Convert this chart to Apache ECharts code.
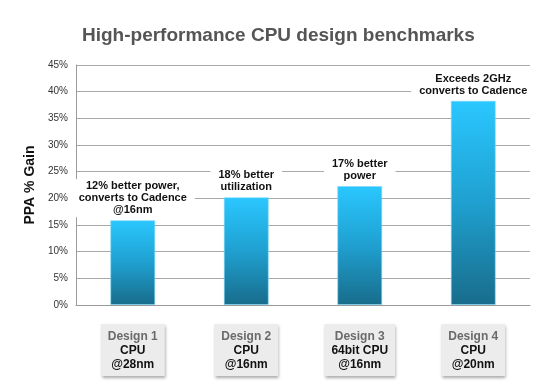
<!DOCTYPE html>
<html>
<head>
<meta charset="utf-8">
<script src="https://cdn.jsdelivr.net/npm/echarts@6/dist/echarts.min.js"></script>
<style>
html,body{margin:0;padding:0;background:#fff;}
#c{width:548px;height:381px;}
</style>
</head>
<body>
<div id="c"></div>
<script>
const designNames = ['Design 1', 'Design 2', 'Design 3', 'Design 4'];
const chipTypes = ['CPU', 'CPU', '64bit CPU', 'CPU'];
const processNodes = ['@28nm', '@16nm', '@16nm', '@20nm'];
const ppaGain = [15.9, 20.2, 22.3, 38.3];
const notes = [
  '12% better power,\nconverts to Cadence\n@16nm',
  '18% better\nutilization',
  '17% better\npower',
  'Exceeds 2GHz\nconverts to Cadence'
];
const yTicks = { min: 0, max: 45, interval: 5 };

const FONT = '"Liberation Sans", Arial, Helvetica, sans-serif';
const chart = echarts.init(document.getElementById('c'));
chart.setOption({
  animation: false,
  backgroundColor: '#ffffff',
  title: {
    text: 'High-performance CPU design benchmarks',
    left: 77,
    top: 21,
    textStyle: { fontFamily: FONT, fontSize: 19, fontWeight: 'bold', color: '#555555' }
  },
  grid: { left: 76, right: 18, top: 65, bottom: 76, containLabel: false },
  xAxis: {
    type: 'category',
    data: designNames,
    axisLine: { lineStyle: { color: '#9a9a9a', width: 1 } },
    axisTick: { show: false },
    axisLabel: {
      margin: 19,
      interval: 0,
      backgroundColor: '#ececec',
      padding: [6, 7, 4, 7],
      shadowColor: 'rgba(0,0,0,0.35)',
      shadowBlur: 3,
      shadowOffsetX: 1,
      shadowOffsetY: 2,
      formatter: function (v, i) {
        return '{a|' + v + '}\n{b|' + chipTypes[i] + '}\n{b|' + processNodes[i] + '}';
      },
      rich: {
        a: { fontFamily: FONT, fontSize: 12, fontWeight: 'bold', color: '#6a6a6a', lineHeight: 14 },
        b: { fontFamily: FONT, fontSize: 12, fontWeight: 'bold', color: '#111111', lineHeight: 14 }
      }
    }
  },
  yAxis: {
    type: 'value',
    min: yTicks.min,
    max: yTicks.max,
    interval: yTicks.interval,
    name: 'PPA % Gain',
    nameLocation: 'middle',
    nameGap: 36,
    nameTextStyle: { fontFamily: FONT, fontSize: 14, fontWeight: 'bold', color: '#111111' },
    axisLine: { show: true, lineStyle: { color: '#9a9a9a', width: 1 } },
    axisTick: { show: false },
    axisLabel: { formatter: '{value}%', fontFamily: FONT, fontSize: 10, color: '#333333', margin: 8 },
    splitLine: { lineStyle: { color: '#a8a8a8', width: 1 } }
  },
  series: [{
    type: 'bar',
    data: ppaGain,
    barWidth: 45,
    itemStyle: {
      color: new echarts.graphic.LinearGradient(0, 0, 0, 1, [
        { offset: 0, color: '#2ac7ff' },
        { offset: 0.5, color: '#1fa0d0' },
        { offset: 1, color: '#186c8b' }
      ]),
      borderColor: 'rgba(120,215,250,0.6)',
      borderWidth: 1
    },
    label: {
      show: true,
      position: 'top',
      distance: 3,
      formatter: function (p) { return notes[p.dataIndex]; },
      fontFamily: FONT,
      fontSize: 11,
      fontWeight: 'bold',
      color: '#111111',
      lineHeight: 12,
      align: 'center',
      backgroundColor: '#ffffff',
      padding: [1, 8, 1, 8]
    }
  }]
});
</script>
</body>
</html>
